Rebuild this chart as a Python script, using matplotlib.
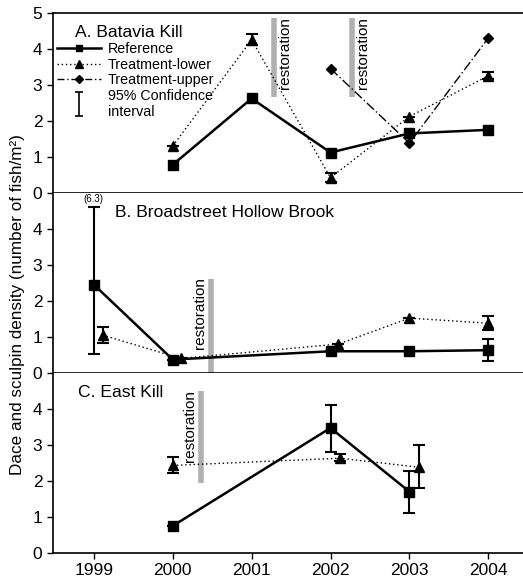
import matplotlib
matplotlib.use("agg")
import matplotlib.pyplot as plt
from matplotlib.lines import Line2D
from matplotlib.path import Path

plt.rcParams['font.family'] = ['Liberation Sans', 'DejaVu Sans']

# A. Batavia Kill
a_ref_x = [2000, 2001, 2002, 2003, 2004]
a_ref_y = [0.78, 2.62, 1.12, 1.65, 1.75]
a_low_x = [2000, 2001, 2002, 2003, 2004]
a_low_y = [1.30, 4.25, 0.42, 2.12, 3.25]
a_low_err = [0, 0.15, 0.12, 0, 0.1]
a_up_x = [2002, 2003, 2004]
a_up_y = [3.45, 1.38, 4.30]
a_restore = [2001.28, 2002.27]

# B. Broadstreet Hollow Brook
b_ref_x = [1999, 2000, 2002, 2003, 2004]
b_ref_y = [2.45, 0.37, 0.60, 0.60, 0.63]
b_ref_lo = [1.93, 0, 0, 0, 0.30]
b_ref_hi = [2.15, 0, 0, 0, 0.32]
b_low_x = [1999.11, 2000.1, 2002.1, 2003.0, 2004.0]
b_low_y = [1.05, 0.40, 0.80, 1.52, 1.38]
b_low_err = [0.22, 0, 0, 0, 0.2]
b_restore = [2000.48]

# C. East Kill
c_ref_x = [2000, 2002, 2003]
c_ref_y = [0.75, 3.47, 1.70]
c_ref_lo = [0, 0.67, 0.58]
c_ref_hi = [0, 0.63, 0.58]
c_low_x = [2000, 2002.12, 2003.12]
c_low_y = [2.43, 2.63, 2.38]
c_low_lo = [0.21, 0.08, 0.58]
c_low_hi = [0.22, 0.12, 0.62]
c_restore = [2000.36]

years = [1999, 2000, 2001, 2002, 2003, 2004]

fig = plt.figure(figsize=(5.23, 5.82), dpi=100)
gs = fig.add_gridspec(3, 1, left=0.101, right=1.0, top=0.978, bottom=0.05, hspace=0)
axes = [fig.add_subplot(gs[i]) for i in range(3)]

ref_style = dict(color='k', lw=1.8, marker='s', ms=6.5, ecolor='k', elinewidth=1.5, capsize=4, capthick=1.5)
low_style = dict(color='k', lw=1.0, ls=(0, (1, 2)), marker='^', ms=7, ecolor='k', elinewidth=1.5, capsize=4, capthick=1.5)
up_style = dict(color='k', lw=1.0, ls=(0, (7, 2, 1, 2)), marker='D', ms=5.5)
bar_style = dict(color='#b0b0b0', lw=4, solid_capstyle='butt')

for ax in axes:
    ax.set_xlim(1998.48, 2004.44)
    ax.set_ylim(0, 5)
    ax.spines['right'].set_visible(False)
    ax.spines['top'].set_visible(False)
    ax.tick_params(axis='both', direction='out', labelsize=12.5, length=4, width=1)
    for s in ax.spines.values():
        s.set_linewidth(1.2)

# panel A
ax = axes[0]
ax.spines['top'].set_visible(True)
ax.set_yticks([0, 1, 2, 3, 4, 5])
ax.set_xticks([])
for x in a_restore:
    ax.plot([x, x], [2.65, 4.85], **bar_style)
    ax.text(x + 0.05, 4.88, 'restoration', rotation=90, va='top', ha='left', fontsize=11)
ax.errorbar(a_low_x, a_low_y, yerr=a_low_err, **low_style)
ax.plot(a_up_x, a_up_y, **up_style)
ax.plot(a_ref_x, a_ref_y, color='k', lw=1.8, marker='s', ms=6.5)
ax.text(0.047, 0.935, 'A. Batavia Kill', transform=ax.transAxes, fontsize=12.6, va='top')

ci_marker = Path([(-0.35, -1), (0.35, -1), (0, -1), (0, 1), (-0.35, 1), (0.35, 1)],
                 [Path.MOVETO, Path.LINETO, Path.MOVETO, Path.LINETO, Path.MOVETO, Path.LINETO])
handles = [Line2D([], [], color='k', lw=1.8, marker='s', ms=5),
           Line2D([], [], color='k', lw=1.0, ls=(0, (1, 2)), marker='^', ms=6),
           Line2D([], [], color='k', lw=1.0, ls=(0, (5, 2, 1, 2)), marker='D', ms=4.5),
           Line2D([], [], ls='none', marker=ci_marker, ms=17, mew=1.2, color='k')]
labels = ['Reference', 'Treatment-lower', 'Treatment-upper', '95% Confidence\ninterval']
ax.legend(handles, labels, loc='upper left', bbox_to_anchor=(0.0, 0.86), frameon=False,
          fontsize=10.3, handlelength=3.1, handletextpad=0.45, labelspacing=0.1, borderpad=0.2,
          borderaxespad=0.1)

# panel B
ax = axes[1]
ax.set_yticks([0, 1, 2, 3, 4])
ax.set_xticks([])
for x in b_restore:
    ax.plot([x, x], [0, 2.62], **bar_style)
    ax.text(x - 0.05, 2.65, 'restoration', rotation=90, va='top', ha='right', fontsize=11)
ax.errorbar(b_low_x, b_low_y, yerr=b_low_err, **low_style)
ax.errorbar(b_ref_x, b_ref_y, yerr=[b_ref_lo, b_ref_hi], **ref_style)
ax.text(1999, 4.68, '(6.3)', fontsize=7, ha='center', va='bottom')
ax.text(0.132, 0.93, 'B. Broadstreet Hollow Brook', transform=ax.transAxes, fontsize=12.6, va='top')

# panel C
ax = axes[2]
ax.set_yticks([0, 1, 2, 3, 4])
ax.set_xticks(years)
ax.set_xticklabels([str(y) for y in years])
for x in c_restore:
    ax.plot([x, x], [1.93, 4.5], **bar_style)
    ax.text(x - 0.05, 4.53, 'restoration', rotation=90, va='top', ha='right', fontsize=11)
ax.errorbar(c_low_x, c_low_y, yerr=[c_low_lo, c_low_hi], **low_style)
ax.errorbar(c_ref_x, c_ref_y, yerr=[c_ref_lo, c_ref_hi], **ref_style)
ax.text(0.053, 0.93, 'C. East Kill', transform=ax.transAxes, fontsize=12.6, va='top')

fig.text(0.034, 0.476, 'Dace and sculpin density (number of fish/m²)', rotation=90,
         va='center', ha='center', fontsize=12.3)

fig.savefig('out.png', dpi=100)
